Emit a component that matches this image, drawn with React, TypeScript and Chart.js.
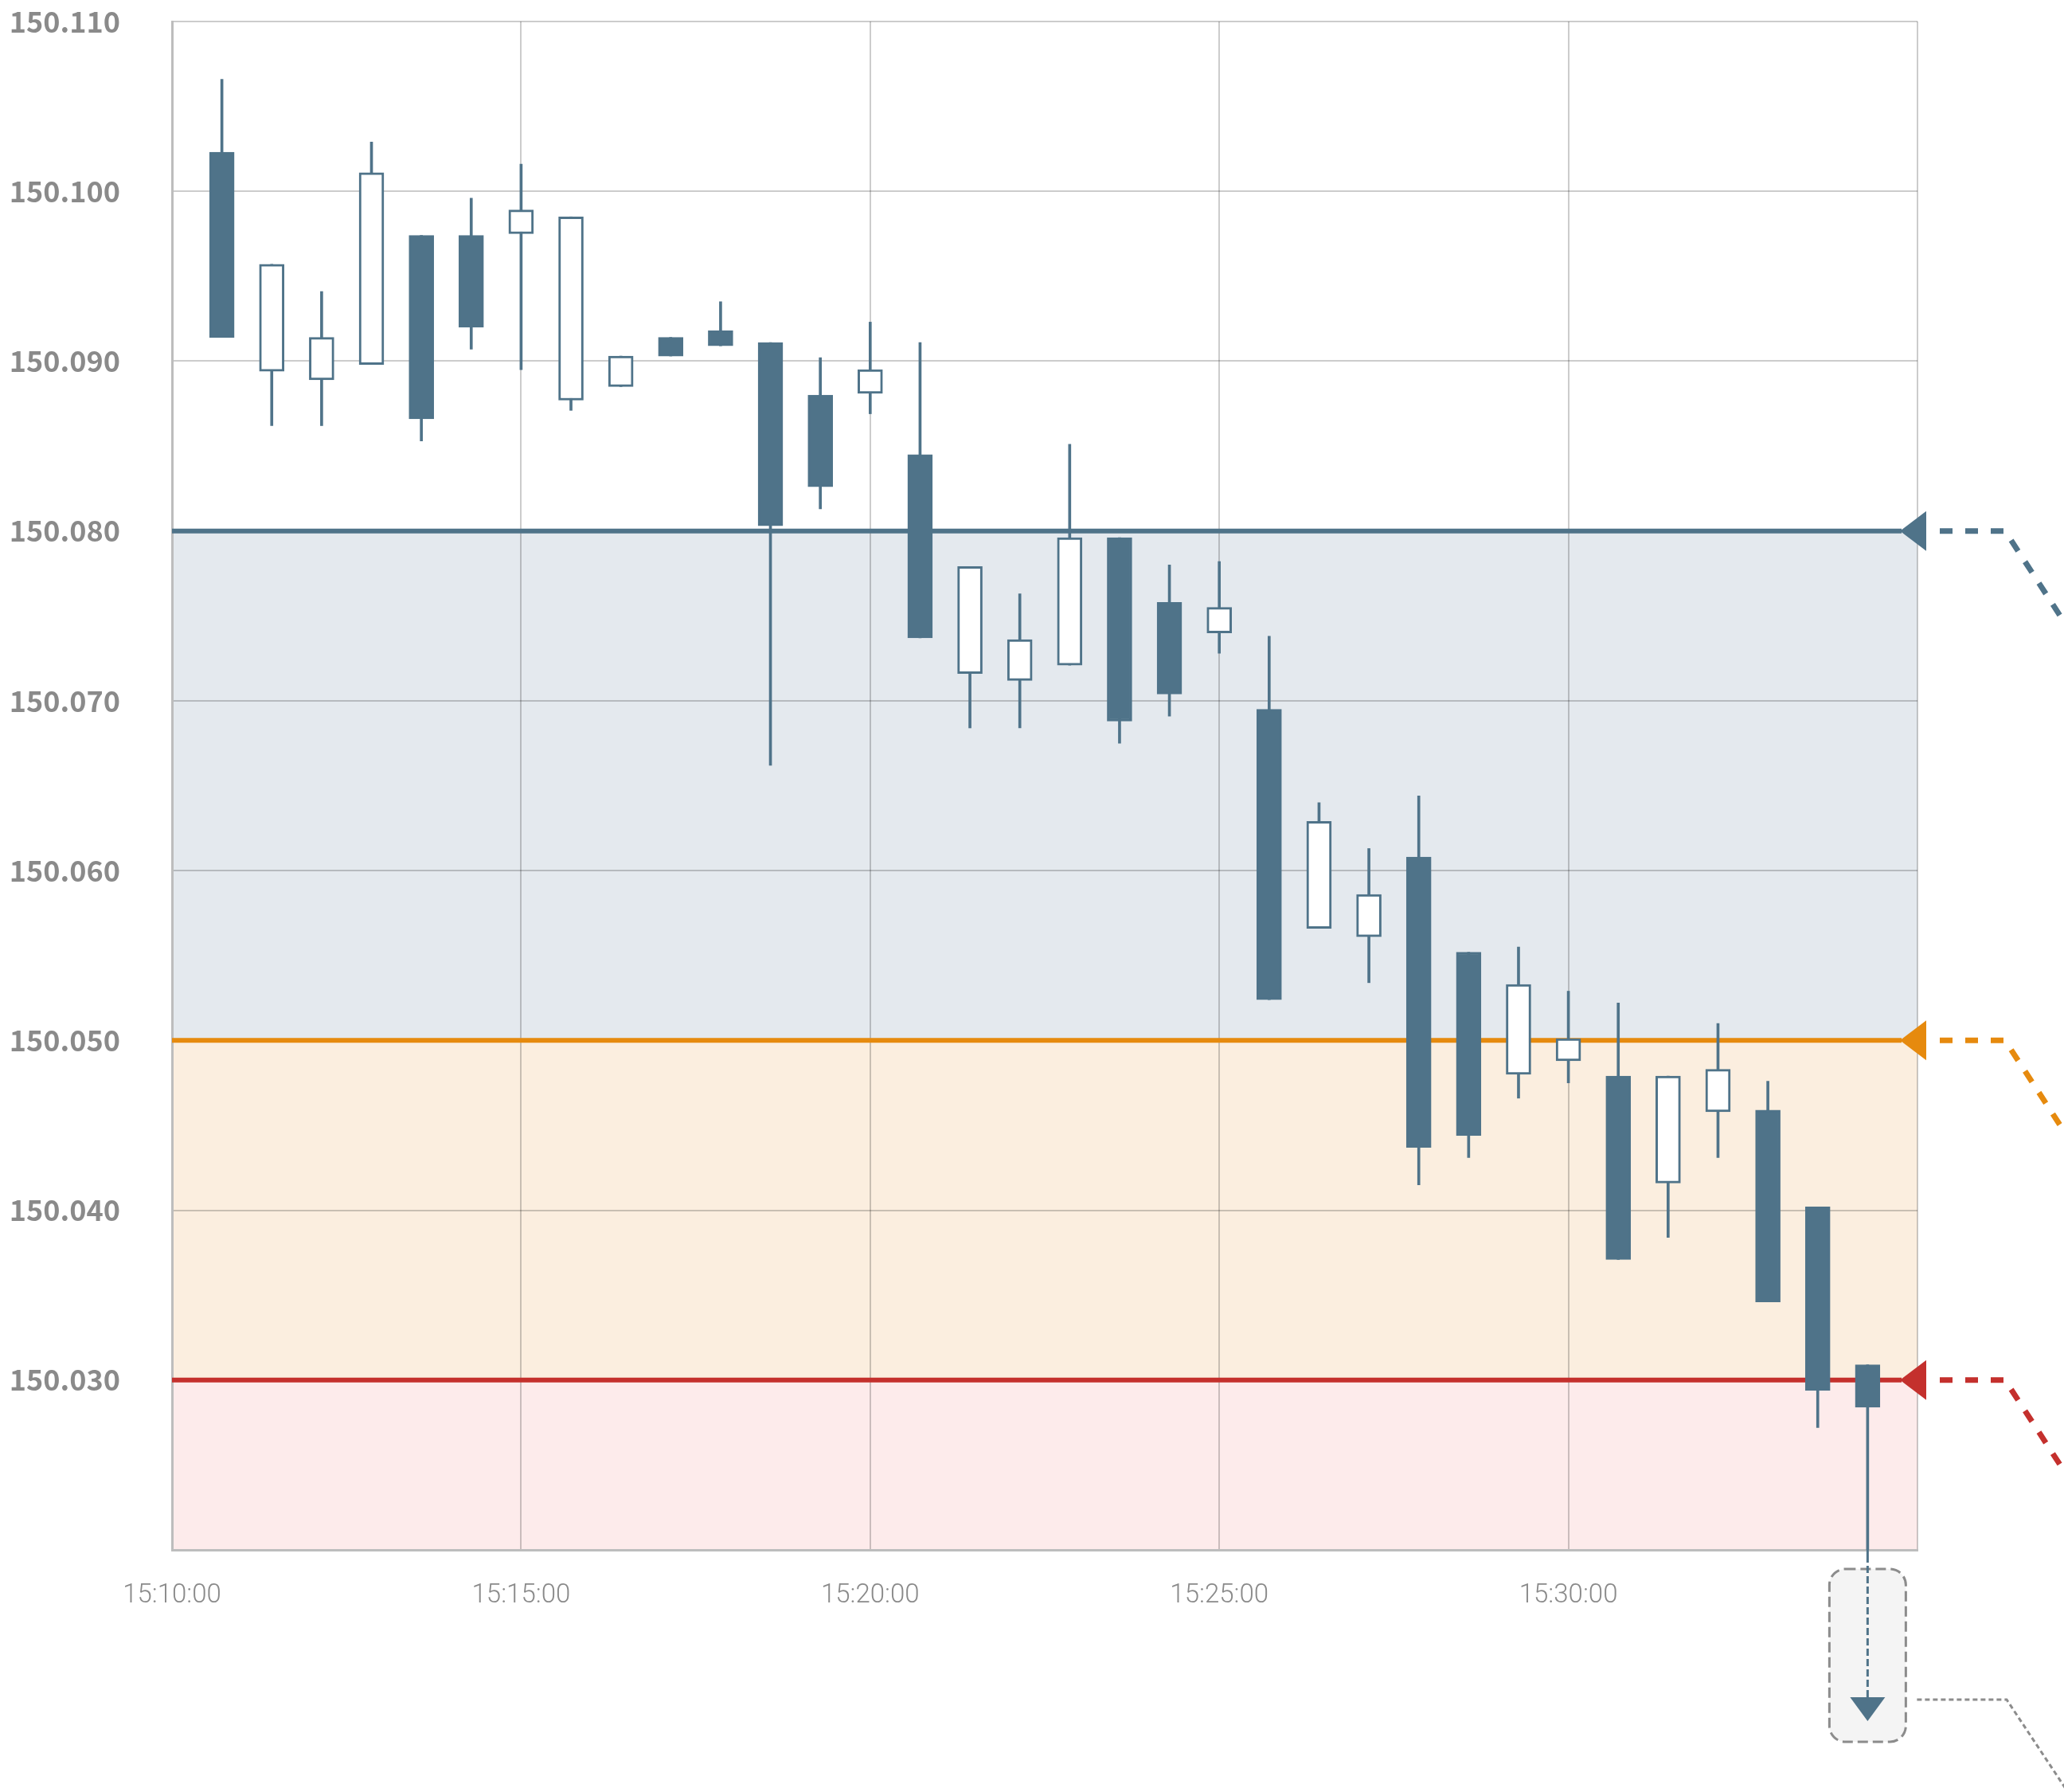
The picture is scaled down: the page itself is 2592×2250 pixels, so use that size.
import React, { useEffect, useRef } from 'react';
import { Chart, registerables } from 'chart.js';

Chart.register(...registerables);

// ---- data ----
const openValues = [
  150.1023, 150.0894, 150.0889, 150.0898, 150.0974, 150.0974, 150.0975, 150.0877, 150.0885, 150.0914,
  150.0918, 150.0911, 150.0880, 150.0881, 150.0845, 150.0716, 150.0712, 150.0721, 150.0796, 150.0758,
  150.0740, 150.0695, 150.0566, 150.0561, 150.0608, 150.0552, 150.0480, 150.0488, 150.0479, 150.0416,
  150.0458, 150.0459, 150.0402, 150.0309,
];
const highValues = [
  150.1066, 150.0957, 150.0941, 150.1029, 150.0974, 150.0996, 150.1016, 150.0985, 150.0903, 150.0914,
  150.0935, 150.0911, 150.0902, 150.0923, 150.0911, 150.0779, 150.0763, 150.0851, 150.0796, 150.0780,
  150.0782, 150.0738, 150.0640, 150.0613, 150.0644, 150.0552, 150.0555, 150.0529, 150.0522, 150.0479,
  150.0510, 150.0476, 150.0402, 150.0309,
];
const lowValues = [
  150.0914, 150.0862, 150.0862, 150.0898, 150.0853, 150.0907, 150.0895, 150.0871, 150.0885, 150.0903,
  150.0909, 150.0662, 150.0813, 150.0869, 150.0737, 150.0684, 150.0684, 150.0721, 150.0675, 150.0691,
  150.0728, 150.0524, 150.0566, 150.0534, 150.0415, 150.0431, 150.0466, 150.0475, 150.0371, 150.0384,
  150.0431, 150.0346, 150.0272, 150.0150,
];
const closeValues = [
  150.0914, 150.0957, 150.0914, 150.1011, 150.0866, 150.0920, 150.0989, 150.0985, 150.0903, 150.0903,
  150.0909, 150.0803, 150.0826, 150.0895, 150.0737, 150.0779, 150.0736, 150.0796, 150.0688, 150.0704,
  150.0755, 150.0524, 150.0629, 150.0586, 150.0437, 150.0444, 150.0533, 150.0501, 150.0371, 150.0479,
  150.0483, 150.0346, 150.0294, 150.0284,
];
const xTickLabels = ['15:10:00', '15:15:00', '15:20:00', '15:25:00', '15:30:00'];
const xTickStep = 7; // candles per 5 minutes
const xSlots = 35;
const yMin = 150.02;
const yMax = 150.11;
const yStep = 0.01;
const levelValues = [150.08, 150.05, 150.03];

// ---- styles ----
const CANDLE = '#4f7389';
const LEVEL_COLORS = ['#4f7389', '#e68a0e', '#c4302d'];
const BAND_COLORS = ['#e4e9ee', '#fbeedf', '#fdebeb'];
const GRID = 'rgba(0,0,0,0.2)';
const LABEL = '#8a8a8a';

const levelPlugin = {
  id: 'levels',
  beforeDraw(chart: any) {
    const { ctx, chartArea: a, scales } = chart;
    const y = scales.y;
    ctx.save();
    for (let i = 0; i < levelValues.length; i++) {
      const top = y.getPixelForValue(levelValues[i]);
      const bottom = i + 1 < levelValues.length ? y.getPixelForValue(levelValues[i + 1]) : a.bottom;
      ctx.fillStyle = BAND_COLORS[i];
      ctx.fillRect(a.left, top, a.right - a.left, bottom - top);
    }
    ctx.restore();
  },
  beforeDatasetsDraw(chart: any) {
    const { ctx, chartArea: a, scales } = chart;
    const y = scales.y;
    ctx.save();
    for (let i = 0; i < levelValues.length; i++) {
      const py = y.getPixelForValue(levelValues[i]);
      const tip = a.right - 22;
      ctx.strokeStyle = LEVEL_COLORS[i];
      ctx.lineWidth = 6;
      ctx.beginPath();
      ctx.moveTo(a.left, py);
      ctx.lineTo(tip + 2, py);
      ctx.stroke();
      ctx.fillStyle = LEVEL_COLORS[i];
      ctx.beginPath();
      ctx.moveTo(tip, py);
      ctx.lineTo(tip + 33, py - 25);
      ctx.lineTo(tip + 33, py + 25);
      ctx.closePath();
      ctx.fill();
    }
    ctx.restore();
  },
  afterDraw(chart: any) {
    const { ctx, chartArea: a, scales } = chart;
    const y = scales.y;
    const x = scales.x;
    ctx.save();
    // leader lines for levels
    for (let i = 0; i < levelValues.length; i++) {
      const py = y.getPixelForValue(levelValues[i]);
      const vx = a.right + 110;
      ctx.strokeStyle = LEVEL_COLORS[i];
      ctx.lineWidth = 7;
      ctx.setLineDash([16, 16]);
      ctx.beginPath();
      ctx.moveTo(a.right + 28, py);
      ctx.lineTo(vx, py);
      ctx.lineTo(vx + 200, py + 200 * 1.54);
      ctx.stroke();
    }
    // off-scale low of last candle
    const last = lowValues.length - 1;
    if (lowValues[last] < yMin) {
      const cx = x.getPixelForValue(last + 1);
      const boxTop = a.bottom + 24;
      const boxW = 96;
      const boxH = 217;
      const r = 20;
      ctx.setLineDash([13, 6]);
      ctx.lineWidth = 3;
      ctx.strokeStyle = '#8c8c8c';
      ctx.fillStyle = '#f4f4f4';
      ctx.beginPath();
      ctx.roundRect(cx - boxW / 2, boxTop, boxW, boxH, r);
      ctx.fill();
      ctx.stroke();
      // gray leader
      const gy = a.bottom + 188;
      const gx = a.right + 112;
      ctx.setLineDash([6, 4]);
      ctx.lineWidth = 3;
      ctx.beginPath();
      ctx.moveTo(cx + boxW / 2 + 14, gy);
      ctx.lineTo(gx, gy);
      ctx.lineTo(gx + 200, gy + 200 * 1.51);
      ctx.stroke();
      // dashed wick continuation
      const triTop = a.bottom + 185;
      ctx.strokeStyle = CANDLE;
      ctx.lineWidth = 3;
      ctx.setLineDash([9, 4]);
      ctx.beginPath();
      ctx.moveTo(cx, a.bottom + 7);
      ctx.lineTo(cx, triTop);
      ctx.stroke();
      ctx.setLineDash([]);
      ctx.beginPath();
      ctx.moveTo(cx, a.bottom);
      ctx.lineTo(cx, a.bottom + 7);
      ctx.stroke();
      ctx.fillStyle = CANDLE;
      ctx.beginPath();
      ctx.moveTo(cx - 22, triTop);
      ctx.lineTo(cx + 22, triTop);
      ctx.lineTo(cx, triTop + 30);
      ctx.closePath();
      ctx.fill();
    }
    ctx.restore();
  },
};

export default function App() {
  const ref = useRef<HTMLCanvasElement | null>(null);
  useEffect(() => {
    if (!ref.current) return;
    const bodies = openValues.map((o, i) => ({ x: i + 1, y: [o, closeValues[i]] }));
    const wicks = lowValues.map((l, i) => ({ x: i + 1, y: [l, highValues[i]] }));
    const bodyFill = openValues.map((o, i) => (closeValues[i] >= o ? '#ffffff' : CANDLE));
    const chart = new Chart(ref.current, {
      type: 'bar',
      data: {
        datasets: [
          {
            data: bodies as any,
            backgroundColor: bodyFill,
            borderColor: CANDLE,
            borderWidth: 3,
            borderSkipped: false,
            barThickness: 31,
            grouped: false,
            order: 1,
          } as any,
          {
            data: wicks as any,
            backgroundColor: CANDLE,
            borderWidth: 0,
            barThickness: 3,
            grouped: false,
            order: 2,
          } as any,
        ],
      },
      options: {
        responsive: false,
        animation: false,
        devicePixelRatio: 1,
        layout: { padding: { top: 27, right: 184, left: 0, bottom: 0 } },
        plugins: { legend: { display: false }, tooltip: { enabled: false } },
        scales: {
          x: {
            type: 'linear',
            min: 0,
            max: xSlots,
            offset: false,
            afterFit: (s: any) => {
              s.height = 304;
              s.paddingLeft = 0;
              s.paddingRight = 0;
            },
            grid: { color: GRID, lineWidth: 2, drawTicks: false, offset: false },
            border: { color: '#bdbdbd', width: 3 },
            ticks: {
              stepSize: xTickStep,
              padding: 38,
              maxRotation: 0,
              autoSkip: false,
              color: LABEL,
              font: { family: "Roboto, 'Liberation Sans', sans-serif", size: 33, weight: 300 as any },
              callback: (v: any) => xTickLabels[Math.round(Number(v) / xTickStep)] ?? '',
            },
          },
          y: {
            min: yMin,
            max: yMax,
            afterFit: (s: any) => {
              s.width = 216;
              s.paddingTop = 0;
              s.paddingBottom = 0;
            },
            grid: { color: GRID, lineWidth: 2, drawTicks: false },
            border: { color: '#bdbdbd', width: 3 },
            ticks: {
              stepSize: yStep,
              padding: 65,
              color: LABEL,
              font: { family: "'Noto Sans CJK JP', 'Noto Sans', sans-serif", size: 36, weight: 'bold' },
              callback: (v: any) => (Math.abs(Number(v) - yMin) < 1e-6 ? '' : Number(v).toFixed(3)),
            },
          },
        },
      } as any,
      plugins: [levelPlugin],
    });
    return () => chart.destroy();
  }, []);
  return (
    <div style={{ position: 'absolute', left: 0, top: 0, width: 2592, height: 2250, overflow: 'hidden' }}>
      <canvas ref={ref} width={2592} height={2250} style={{ display: 'block', width: '2592px', height: '2250px' }} />
    </div>
  );
}
